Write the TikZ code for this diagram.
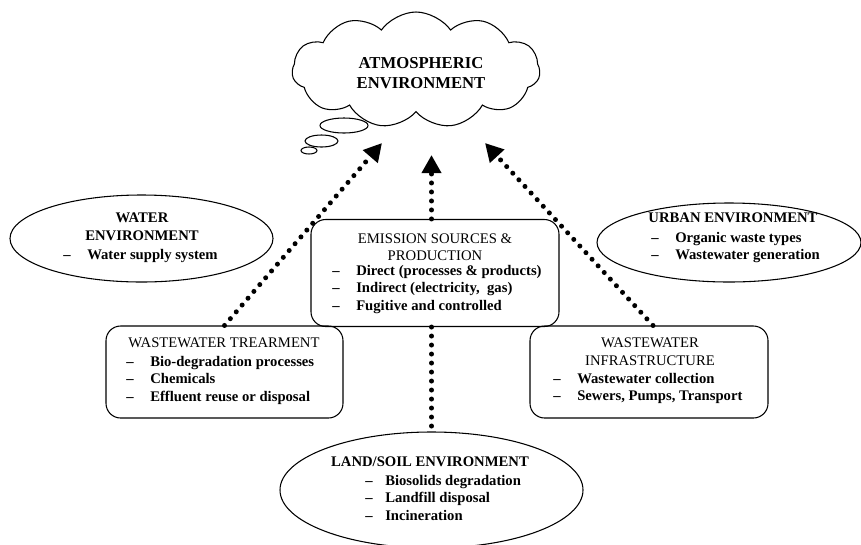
\documentclass[tikz,border=0pt]{standalone}
\usepackage{fontspec}
\setmainfont{Liberation Serif}
\usetikzlibrary{shapes.symbols,shapes.geometric,arrows.meta}
\newcommand\itm[2][18pt]{\makebox[#1][l]{--}#2}
\begin{document}
\begin{tikzpicture}[x=0.75pt,y=-0.75pt,
  outl/.style={draw=black,line width=0.8pt},
  rbox/.style={outl,rectangle,rounded corners=11pt,inner sep=0pt},
  oval/.style={outl,ellipse,inner sep=0pt},
  txt/.style={inner sep=0pt,font=\fontsize{11}{13.1}\selectfont\bfseries},
  ttl/.style={txt,align=center,anchor=north},
  ttlr/.style={ttl,font=\fontsize{11}{13.1}\selectfont\mdseries},
  lst/.style={txt,align=left,anchor=north west},
  dotline/.style={line width=3.75pt,line cap=round,dash pattern=on 0pt off 6.75pt},
  flow/.style={dotline,-{Triangle[length=13.5pt,width=14pt]}}
]
\useasboundingbox (0,0) rectangle (861,544);

% cloud
\node[cloud, cloud puffs=11, cloud puff arc=110, aspect=2.1, outl, fill=white,
      minimum width={248*0.75pt}, minimum height={116*0.75pt}, inner sep=0pt] (cloud) at (416,70) {};
\node[oval, fill=white, minimum width={48*0.75pt}, minimum height={15*0.75pt}] (b1) at (344,125.5) {};
\node[oval, fill=white, minimum width={33*0.75pt}, minimum height={12*0.75pt}] (b2) at (321.5,141) {};
\node[oval, fill=white, minimum width={16*0.75pt}, minimum height={7*0.75pt}] (b3) at (309,150.5) {};
\node[txt, font=\fontsize{12.5}{15}\selectfont\bfseries, align=center, anchor=north] (atmT) at (421,57) {ATMOSPHERIC\\ENVIRONMENT};

% emission
\node[rbox, minimum width={248*0.75pt}, minimum height={107*0.75pt}] (emis) at (435,273) {};
\node[ttlr] (emisT) at (435,233) {EMISSION SOURCES \&\\PRODUCTION};
\node[lst] (emisL) at (332,265) {\itm{Direct (processes \& products)}\\\itm{Indirect (electricity,\ \ gas)}\\\itm{Fugitive and controlled}};

% water
\node[oval, minimum width={263*0.75pt}, minimum height={87*0.75pt}] (water) at (141.5,238.5) {};
\node[ttl] (waterT) at (142,213) {WATER\\ENVIRONMENT};
\node[lst] (waterL) at (63,249) {\itm{Water supply system}};

% treatment
\node[rbox, minimum width={237*0.75pt}, minimum height={92*0.75pt}] (treat) at (224.5,372) {};
\node[ttlr] (treatT) at (224,338) {WASTEWATER TREARMENT};
\node[lst] (treatL) at (126,356) {\itm{Bio-degradation processes}\\\itm{Chemicals}\\\itm{Effluent reuse or disposal}};

% urban
\node[oval, minimum width={264*0.75pt}, minimum height={79*0.75pt}] (urban) at (729,242.5) {};
\node[ttl] (urbanT) at (733,213) {URBAN ENVIRONMENT};
\node[lst] (urbanL) at (651,232) {\itm{Organic waste types}\\\itm{Wastewater generation}};

% infrastructure
\node[rbox, minimum width={238*0.75pt}, minimum height={92*0.75pt}] (infra) at (649,372) {};
\node[ttlr] (infraT) at (650,338) {WASTEWATER\\INFRASTRUCTURE};
\node[lst] (infraL) at (553,373) {\itm{Wastewater collection}\\\itm{Sewers, Pumps, Transport}};

% land
\node[oval, minimum width={303*0.75pt}, minimum height={116*0.75pt}] (land) at (431.5,490) {};
\node[ttl] (landT) at (430,457) {LAND/SOIL ENVIRONMENT};
\node[lst] (landL) at (365,475) {\itm[15pt]{Biosolids degradation}\\\itm[15pt]{Landfill disposal}\\\itm[15pt]{Incineration}};

% connectors
\coordinate (tL) at (382,143);
\coordinate (tM) at (431.5,155);
\coordinate (tR) at (485,143);
\draw[flow] (treat.north) -- (tL);
\draw[flow] (emis.north -| land.north) -- (tM);
\draw[flow] ([xshift=3pt]infra.north) -- (tR);
\draw[dotline] (emis.south -| land.north) -- (land.north);
\end{tikzpicture}
\end{document}
